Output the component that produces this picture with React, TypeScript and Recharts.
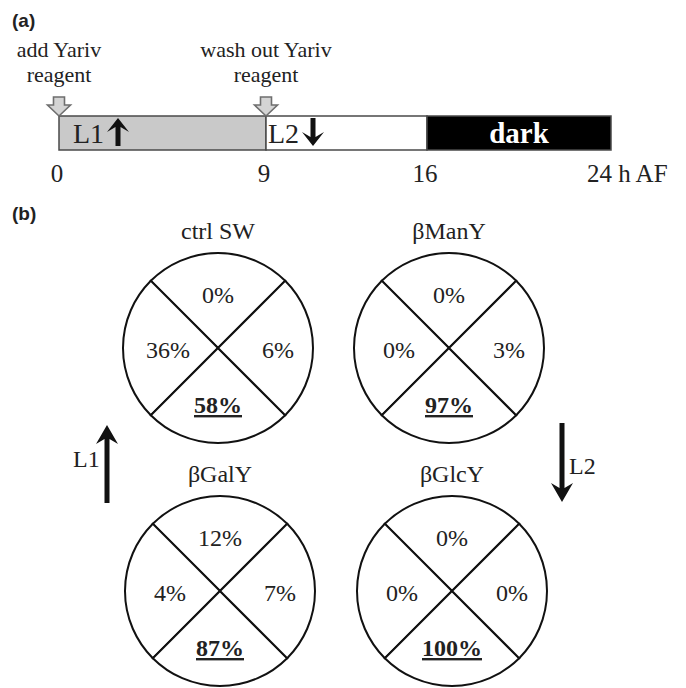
import React from 'react';
import { BarChart, Bar, XAxis, YAxis, PieChart, Pie } from 'recharts';

// ---- Panel (a) data ----
const phaseBounds = [0, 9, 16, 24];
const phaseNames = ['L1', 'L2', 'dark'];
const phaseFills = ['#c9c9c9', '#ffffff', '#000000'];
const timeTicks = [0, 9, 16, 24];
const tickLabels = ['0', '9', '16', '24 h AF'];
const eventLines = [
  ['add Yariv', 'reagent'],
  ['wash out Yariv', 'reagent'],
];

// ---- Panel (b) data ----
const groupNames = ['ctrl SW', 'βManY', 'βGalY', 'βGlcY'];
const topPct = [0, 0, 12, 0];
const leftPct = [36, 0, 4, 0];
const bottomPct = [58, 97, 87, 100];
const rightPct = [6, 3, 7, 0];
const sectorPos = ['top', 'left', 'bottom', 'right'];

const SERIF = 'Liberation Serif';
const SANS = 'Liberation Sans';

const serif = (size: number, bold = false): any => ({ fontFamily: SERIF, fontSize: size, fontWeight: bold ? 'bold' : 'normal' });

const timelineRow: any = { name: 'timeline' };
phaseNames.forEach((p, i) => {
  timelineRow[p] = phaseBounds[i + 1] - phaseBounds[i];
});
const timelineData = [timelineRow];

function pieData(g: number) {
  const vals = [topPct[g], leftPct[g], bottomPct[g], rightPct[g]];
  return sectorPos.map((pos, i) => ({ pos, pct: vals[i], v: 1 }));
}

const pieCenters = [
  { cx: 218, cy: 348 },
  { cx: 449, cy: 348 },
  { cx: 220, cy: 591 },
  { cx: 452, cy: 591 },
];

function HollowDown({ x }: { x: number }) {
  const d = `M${x - 5.5},97 L${x + 5.5},97 L${x + 5.5},105 L${x + 11.5},105 L${x},116 L${x - 11.5},105 L${x - 5.5},105 Z`;
  return <path d={d} fill="#d4d4d4" stroke="#6e6e6e" strokeWidth={1.6} />;
}

function SolidArrow({ x, y1, y2, up, head = 12, hw = 11, sw = 4 }: any) {
  let d;
  if (up) {
    d = `M${x},${y1} L${x + hw},${y1 + head} L${x + sw / 2},${y1 + head - 5} L${x + sw / 2},${y2} L${x - sw / 2},${y2} L${x - sw / 2},${y1 + head - 5} L${x - hw},${y1 + head} Z`;
  } else {
    d = `M${x},${y2} L${x + hw},${y2 - head} L${x + sw / 2},${y2 - head + 5} L${x + sw / 2},${y1} L${x - sw / 2},${y1} L${x - sw / 2},${y2 - head + 5} L${x - hw},${y2 - head} Z`;
  }
  return <path d={d} fill="#111" />;
}

function makeSegLabel(idx: number) {
  return (props: any) => {
    const { x, y, width, height } = props;
    const base = y + height - 7;
    if (idx === 2) {
      return (
        <text x={x + width / 2} y={base} textAnchor="middle" fill="#fff" style={serif(29, true)}>
          {phaseNames[idx]}
        </text>
      );
    }
    const lines = eventLines[idx];
    const tx = idx === 0 ? x + 14 : x + 2;
    const ax = idx === 0 ? x + 59 : x + 47;
    return (
      <g>
        <text x={tx} y={base} fill="#222" style={serif(28)}>{phaseNames[idx]}</text>
        <SolidArrow x={ax} y1={y + 2} y2={y + height - 4} up={idx === 0} head={14} hw={11} sw={5} />
        <HollowDown x={x} />
        <text x={x} y={57} textAnchor="middle" fill="#222" style={serif(22)}>{lines[0]}</text>
        <text x={x} y={82} textAnchor="middle" fill="#222" style={serif(22)}>{lines[1]}</text>
      </g>
    );
  };
}

function TimeTick(props: any) {
  const { x, y, payload } = props;
  const i = timeTicks.indexOf(payload.value);
  const last = i === timeTicks.length - 1;
  return (
    <text x={last ? x - 24 : x - 2} y={y + 32} textAnchor={last ? 'start' : 'middle'} fill="#222" style={serif(25)}>
      {tickLabels[i]}
    </text>
  );
}

function makePieLabel(g: number) {
  return (props: any) => {
    const { cx, cy, outerRadius, index, payload } = props;
    const pos = payload.pos;
    const txt = `${payload.pct}%`;
    let tx = cx, ty = cy;
    if (pos === 'top') { ty = cy - 45; }
    if (pos === 'left') { tx = cx - 50; ty = cy + 10; }
    if (pos === 'right') { tx = cx + 60; ty = cy + 10; }
    if (pos === 'bottom') { ty = cy + 65; }
    const bold = pos === 'bottom';
    return (
      <g>
        {index === 0 && (
          <text x={cx} y={cy - outerRadius - 14} textAnchor="middle" fill="#222" style={serif(24)}>
            {groupNames[g]}
          </text>
        )}
        <text x={tx} y={ty} textAnchor="middle" fill="#222"
          style={{ ...serif(24, bold), textDecoration: bold ? 'underline' : 'none' }}>
          {txt}
        </text>
      </g>
    );
  };
}

export default function App() {
  return (
    <div style={{ position: 'absolute', left: 0, top: 0, width: 686, height: 688, background: '#fff' }}>
      <div style={{ position: 'absolute', left: 0, top: 0 }}>
        <PieChart width={686} height={688} margin={{ top: 0, right: 0, bottom: 0, left: 0 }}>
          {groupNames.map((g, i) => (
            <Pie
              key={g}
              data={pieData(i)}
              dataKey="v"
              cx={pieCenters[i].cx}
              cy={pieCenters[i].cy}
              innerRadius={0}
              outerRadius={95}
              startAngle={45}
              endAngle={405}
              fill="#fff"
              stroke="#111"
              strokeWidth={2}
              label={makePieLabel(i)}
              labelLine={false}
              isAnimationActive={false}
            />
          ))}
          <text x={12} y={220} style={{ fontFamily: SANS, fontWeight: 'bold', fontSize: 19 }} fill="#222">(b)</text>
          <SolidArrow x={107} y1={425} y2={503} up head={19} hw={11} sw={5} />
          <text x={73} y={467} style={serif(24)} fill="#222">L1</text>
          <SolidArrow x={562} y1={423} y2={502} up={false} head={19} hw={11} sw={5} />
          <text x={569} y={474} style={serif(24)} fill="#222">L2</text>
        </PieChart>
      </div>
      <div style={{ position: 'absolute', left: 0, top: 0 }}>
        <BarChart
          width={686}
          height={200}
          data={timelineData}
          layout="vertical"
          margin={{ top: 116, right: 75, left: 59, bottom: 0 }}
          barCategoryGap={0}
        >
          <XAxis type="number" domain={[0, 24]} ticks={timeTicks} height={50} axisLine={false} tickLine={false} tickSize={0} tickMargin={0} tick={<TimeTick />} interval={0} />
          <YAxis type="category" dataKey="name" hide />
          {phaseNames.map((p, i) => (
            <Bar key={p} dataKey={p} stackId="t" fill={phaseFills[i]} stroke="#4a4a4a" strokeWidth={1.5} isAnimationActive={false} label={makeSegLabel(i)} />
          ))}
          <text x={12} y={27} style={{ fontFamily: SANS, fontWeight: 'bold', fontSize: 19 }} fill="#222">(a)</text>
        </BarChart>
      </div>
    </div>
  );
}
